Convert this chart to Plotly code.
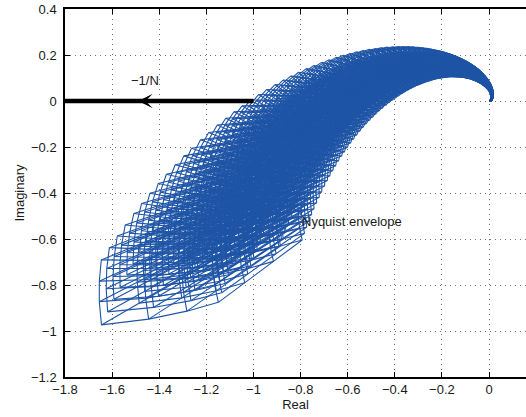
import numpy as np
import plotly.graph_objects as go

# ---- uncertain plant  G(s) = K e^{-tau s} / ( s (s + a) (T2 s + 1) ) ----
gain_K = [0.78, 0.90, 1.02, 1.13]      # gain samples (min .. max)
pole_a = [1.00, 1.13, 1.26, 1.39]      # mechanical pole samples
lag_T2 = [0.85, 0.97, 1.08, 1.20]      # lag time-constant samples
delay_tau = [0.38]                     # transport delay
omega = [0.490, 0.500, 0.510, 0.520, 0.531, 0.541, 0.552, 0.563, 0.574, 0.586,
         0.598, 0.609, 0.622, 0.634, 0.647, 0.660, 0.673, 0.686, 0.700, 0.714,
         0.728, 0.743, 0.758, 0.773, 0.788, 0.804, 0.820, 0.837, 0.853, 0.871,
         0.888, 0.906, 0.924, 0.942, 0.961, 0.980, 1.000, 1.020, 1.040, 1.061,
         1.082, 1.104, 1.126, 1.149, 1.172, 1.195, 1.219, 1.243, 1.268, 1.294,
         1.319, 1.346, 1.373, 1.400, 1.428, 1.457, 1.486, 1.516, 1.546, 1.577,
         1.608, 1.641, 1.673, 1.707, 1.741, 1.776, 1.811, 1.848, 1.885, 1.922,
         1.961, 2.000, 2.040, 2.081, 2.122, 2.165, 2.208, 2.252, 2.297, 2.343,
         2.390, 2.438, 2.487, 2.536, 2.587, 2.639, 2.692, 2.745, 2.800, 2.856,
         2.913, 2.972, 3.031, 3.092, 3.154, 3.217, 3.281, 3.347, 3.414, 3.482,
         3.551, 3.622, 3.695, 3.769, 3.844, 3.921, 3.999, 4.079, 4.161, 4.244,
         4.329, 4.416, 4.504, 4.594, 4.686, 4.780, 4.875, 4.973, 5.072, 5.174,
         5.277, 5.383, 5.490, 5.600, 5.712, 5.827, 5.943, 6.062]

# describing-function locus  -1/N
nl_re = [-1.8, -1.0]
nl_im = [0.0, 0.0]

x_ticks = [-1.8, -1.6, -1.4, -1.2, -1.0, -0.8, -0.6, -0.4, -0.2, 0.0]
y_ticks = [0.4, 0.2, 0.0, -0.2, -0.4, -0.6, -0.8, -1.0, -1.2]

BLUE = "#1f55a6"
TXT = "#1a1a1a"
FONT = "Liberation Sans, Arial, sans-serif"


def G(w, K, a, T2, tau):
    s = 1j * w
    return K * np.exp(-tau * s) / (s * (s + a) * (T2 * s + 1.0))


xs, ys = [], []


def add_path(vals):
    v = np.asarray(vals)
    xs.extend(np.real(v).tolist())
    ys.extend(np.imag(v).tolist())
    xs.append(None)
    ys.append(None)


tau = delay_tau[0]
for w in omega:
    # value-set (template) wireframe at this frequency
    for a in pole_a:
        for T in lag_T2:
            add_path([G(w, K, a, T, tau) for K in gain_K])
    for K in gain_K:
        for T in lag_T2:
            add_path([G(w, K, a, T, tau) for a in pole_a])
        for a in pole_a:
            add_path([G(w, K, a, T, tau) for T in lag_T2])

fig = go.Figure()
fig.add_trace(go.Scatter(x=xs, y=ys, mode="lines",
                         line=dict(color=BLUE, width=1.1),
                         hoverinfo="skip", showlegend=False))
fig.add_trace(go.Scatter(x=nl_re, y=nl_im, mode="lines",
                         line=dict(color="black", width=4.5),
                         hoverinfo="skip", showlegend=False))

fig.add_annotation(x=-1.489, y=0, ax=-1.25, ay=0, xref="x", yref="y",
                   axref="x", ayref="y", text="", showarrow=True,
                   arrowhead=3, arrowsize=1.1, arrowwidth=2.2,
                   arrowcolor="black", standoff=0)
fig.add_annotation(x=-1.46, y=0.091, text="\u22121/N", showarrow=False,
                   font=dict(size=13, color=TXT, family=FONT),
                   xanchor="center", yanchor="middle")
fig.add_annotation(x=-0.802, y=-0.526, text="Nyquist envelope",
                   showarrow=False, font=dict(size=13, color=TXT, family=FONT),
                   xanchor="left", yanchor="middle")

axis_common = dict(showgrid=True, gridcolor="#707070", griddash="1px,4px",
                   gridwidth=1, zeroline=False, showline=True,
                   linecolor="black", linewidth=1.5, ticks="inside",
                   ticklen=5, tickcolor="black", tickwidth=1,
                   tickfont=dict(size=13, color=TXT, family=FONT))

fig.update_xaxes(range=[-1.8, 0.157], tickvals=x_ticks, mirror="ticks",
                 title=dict(text="Real", standoff=4,
                            font=dict(size=13, color=TXT, family=FONT)),
                 **axis_common)
fig.update_yaxes(range=[-1.2, 0.4], tickvals=y_ticks, ticklabelstandoff=4,
                 title=dict(text="Imaginary", standoff=3,
                            font=dict(size=13, color=TXT, family=FONT)),
                 **axis_common)

fig.update_layout(width=526, height=417,
                  margin=dict(l=65, r=0, t=9, b=40),
                  paper_bgcolor="white", plot_bgcolor="white",
                  font=dict(family=FONT, size=13, color=TXT))

fig.write_html("out.html")
